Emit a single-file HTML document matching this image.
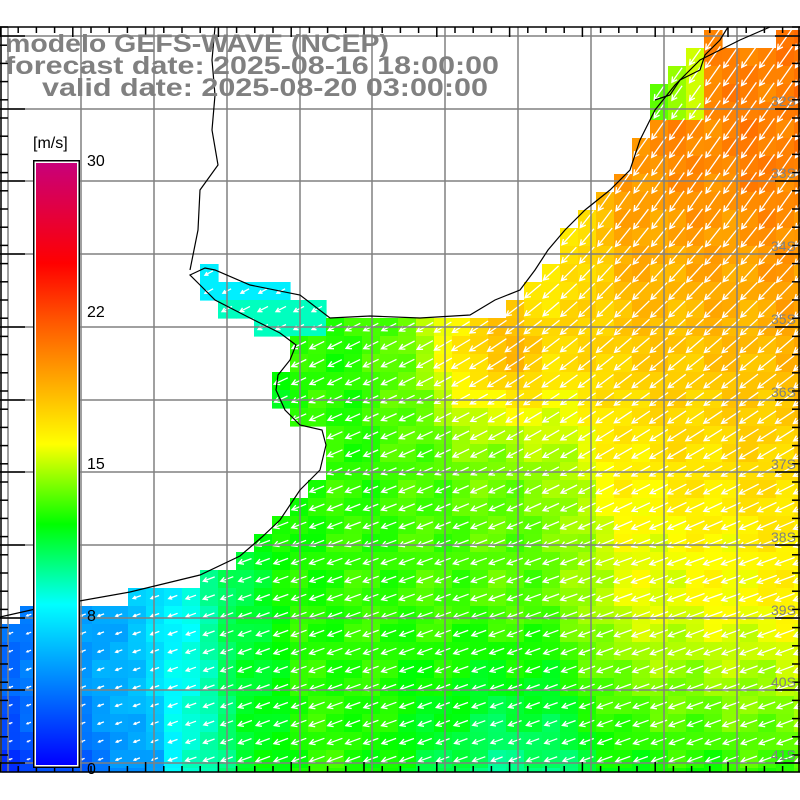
<!DOCTYPE html>
<html><head><meta charset="utf-8"><style>html,body{margin:0;padding:0;background:#fff}svg{display:block}</style></head>
<body>
<svg id="s" width="800" height="800" xmlns="http://www.w3.org/2000/svg" font-family="Liberation Sans, sans-serif">
<rect width="800" height="800" fill="#fff"/>
<g id="cells"></g><g id="arrows" stroke="#fff" stroke-width="1.3" fill="none"></g>
<g id="grid" stroke="#808080" stroke-width="1.5"></g>
<polyline fill="none" stroke="#000" stroke-width="1.2" points="0,617 40,608 130,592 200,575 240,556 262,537 280,520 300,490 320,470 326,445 322,430 300,425 285,410 276,390 278,375 290,360 296,345 280,333 250,318 215,300 200,285 190,275 205,268 215,270 250,285 300,295 330,318 370,316 420,318 470,315 495,300 520,290 535,270 548,250 565,230 585,210 610,190 630,170 640,140 655,110 675,85 700,60 740,40 770,27"/>
<polyline fill="none" stroke="#000" stroke-width="1.2" points="215,27 212,60 215,95 212,130 218,165 200,190 198,230 190,270"/>
<polyline fill="none" stroke="#000" stroke-width="1.2" points="655,100 670,95 680,80 700,70 705,55 720,40 728,27"/>
<g id="axes" stroke="#000" stroke-width="1.5"></g>
<g fill="#808080" font-size="14">
<text x="771" y="106">32S</text><text x="771" y="178">33S</text><text x="771" y="251">34S</text><text x="771" y="324">35S</text><text x="771" y="397">36S</text><text x="771" y="469">37S</text><text x="771" y="542">38S</text><text x="771" y="615">39S</text><text x="771" y="687">40S</text><text x="771" y="760">41S</text>
</g>
<defs><linearGradient id="cb" x1="0" y1="1" x2="0" y2="0">
<stop offset="0" stop-color="#0000ff"/><stop offset="0.267" stop-color="#00ffff"/><stop offset="0.4" stop-color="#00ff00"/><stop offset="0.533" stop-color="#ffff00"/><stop offset="0.733" stop-color="#ff5a00"/><stop offset="0.833" stop-color="#ff0000"/><stop offset="1" stop-color="#c8007a"/></linearGradient></defs>
<rect x="33" y="160" width="47" height="608" fill="#000"/>
<rect x="34.5" y="161.5" width="44" height="605" fill="#fff"/>
<rect x="36" y="163" width="41" height="602" fill="url(#cb)"/>
<g font-size="16" fill="#000"><text x="33" y="148">[m/s]</text><text x="87" y="166">30</text><text x="87" y="317">22</text><text x="87" y="469">15</text><text x="87" y="621">8</text><text x="87" y="774">0</text></g>
<g font-size="25" font-weight="bold" fill="#808080">
<text x="5" y="52" textLength="384" lengthAdjust="spacingAndGlyphs">modelo GEFS-WAVE (NCEP)</text>
<text x="5" y="74" textLength="494" lengthAdjust="spacingAndGlyphs">forecast date: 2025-08-16 18:00:00</text>
<text x="42" y="96" textLength="446" lengthAdjust="spacingAndGlyphs">valid date: 2025-08-20 03:00:00</text>
</g>
</svg>
<script>
(function(){
function lerp(tab,x){if(x<=tab[0][0])return tab[0][1];for(var i=1;i<tab.length;i++){if(x<=tab[i][0]){var a=tab[i-1],b=tab[i];return a[1]+(b[1]-a[1])*(x-a[0])/(b[0]-a[0]);}}return tab[tab.length-1][1];}
var B=[[0,3],[100,5],[160,7],[200,9],[240,11],[300,12.5],[550,13.5],[620,15.5],[800,16.5]];
function cl(v,a,b){return Math.max(a,Math.min(b,v));}
function speed(x,y){
 if(y<336&&x<330){return (x<290&&y<300)?7.5:9;}
 if(y<120&&x<700) return 13+(x-650)/20;
 var s=lerp(B,x);
 s+=cl((560-y)/100,0,4)*cl((x-380)/250,0,1)*1.1;
 s+=4*Math.exp(-((x-500)*(x-500)+(y-350)*(y-350))/5000);
 if(y>600) s-=(y-600)/170*3.5*cl((x-350)/150,0,1);
 if(x<170&&y>690) s-=(y-690)/80*1.5;
 s+=0.6*Math.sin(x*0.09+y*0.05)*Math.cos(y*0.07);
 return s;}
var st=[[0,[0,0,255]],[8,[0,255,255]],[12,[0,255,0]],[16,[255,255,0]],[22,[255,90,0]],[25,[255,0,0]],[30,[200,0,122]]];
function col(v){v=cl(v,0,30);for(var i=1;i<st.length;i++){if(v<=st[i][0]){var a=st[i-1],b=st[i],t=(v-a[0])/(b[0]-a[0]);return "rgb("+[0,1,2].map(function(k){return Math.round(a[1][k]+(b[1][k]-a[1][k])*t)}).join(",")+")";}}}
var rows={30:[[704,722],[764,800]],48:[[686,800]],66:[[668,800]],84:[[650,800]],102:[[650,800]],120:[[640,800]],138:[[632,800]],156:[[620,800]],174:[[614,800]],192:[[596,800]],210:[[578,800]],228:[[560,800]],246:[[545,800]],264:[[200,218],[540,800]],282:[[200,290],[520,800]],300:[[218,326],[490,800]],318:[[254,800]],336:[[290,800]],354:[[290,800]],372:[[272,800]],390:[[272,800]],408:[[290,800]],426:[[326,800]],444:[[326,800]],462:[[326,800]],480:[[308,800]],498:[[290,800]],516:[[272,800]],534:[[254,800]],552:[[236,800]],570:[[200,800]],588:[[128,800]],606:[[20,800]]};
var cg=document.getElementById("cells"),ag=document.getElementById("arrows");
var ch="",ah="";
for(var y=30;y<772;y+=18){
 var iv=rows[y]||[[0,800]];
 for(var x=2;x<800;x+=18){
  var cx=x+9,cy=y+9,ok=false;
  for(var j=0;j<iv.length;j++){if(x>=iv[j][0]-1&&x<iv[j][1])ok=true;}
  if(!ok)continue;
  var s=speed(cx,cy);
  var h=Math.min(18,772-y);
  ch+='<rect x="'+x+'" y="'+y+'" width="18.6" height="'+(h+0.6)+'" fill="'+col(s)+'"/>';
  var ang=(20+cl((560-cy)/360,0,1)*35*cl((cx-300)/300,0.3,1))*Math.PI/180;
  var L=cl(s*1.25,3,26);
  var dx=-Math.cos(ang),dy=Math.sin(ang);
  var x0=cx-dx*L/2,y0=cy-dy*L/2,x1=cx+dx*L/2,y1=cy+dy*L/2;
  var hl=Math.min(6,L*0.4),a1=Math.atan2(-dy,-dx);
  ah+='<path d="M'+x0.toFixed(1)+' '+y0.toFixed(1)+'L'+x1.toFixed(1)+' '+y1.toFixed(1)+'M'+(x1+hl*Math.cos(a1+0.5)).toFixed(1)+' '+(y1+hl*Math.sin(a1+0.5)).toFixed(1)+'L'+x1.toFixed(1)+' '+y1.toFixed(1)+'L'+(x1+hl*Math.cos(a1-0.5)).toFixed(1)+' '+(y1+hl*Math.sin(a1-0.5)).toFixed(1)+'"/>';
 }}
cg.innerHTML=ch;ag.innerHTML=ah;
var g="",vx=[8,81,154,227,300,372,445,518,591,664,737],hy=[36,109,181,254,327,400,472,545,618,690,763];
vx.forEach(function(v){g+='<line x1="'+v+'" y1="27" x2="'+v+'" y2="772"/>'});
hy.forEach(function(v){g+='<line x1="0" y1="'+v+'" x2="800" y2="'+v+'"/>'});
document.getElementById("grid").innerHTML=g;
var a='<line x1="0" y1="27" x2="800" y2="27"/><line x1="0" y1="772" x2="800" y2="772"/><line x1="1" y1="27" x2="1" y2="772"/><line x1="799" y1="27" x2="799" y2="772"/>';
for(var i=0;i<=800;i+=18.2){var big=false;vx.forEach(function(v){if(Math.abs(v-i)<9)big=true;});var L=big?10:6;a+='<line x1="'+i+'" y1="27" x2="'+i+'" y2="'+(27+L)+'"/><line x1="'+i+'" y1="772" x2="'+i+'" y2="'+(772-L)+'"/>';}
for(var k=27;k<=772;k+=18.2){var L2=8;a+='<line x1="0" y1="'+k+'" x2="'+L2+'" y2="'+k+'"/><line x1="800" y1="'+k+'" x2="'+(800-L2)+'" y2="'+k+'"/>';}
hy.forEach(function(v){a+='<line x1="0" y1="'+v+'" x2="25" y2="'+v+'"/><line x1="800" y1="'+v+'" x2="775" y2="'+v+'"/>';});
document.getElementById("axes").innerHTML=a;
})();
</script>
</body></html>
